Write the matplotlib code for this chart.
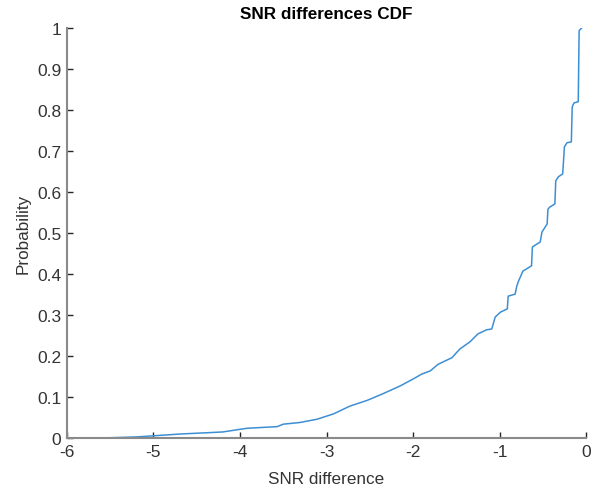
import matplotlib
matplotlib.use("Agg")
import matplotlib.pyplot as plt

# empirical CDF of the SNR differences (sorted difference, cumulative probability)
snr_diff = [-5.64, -5.19, -4.69, -4.20, -3.92, -3.57, -3.50, -3.31, -3.11, -2.92,
            -2.73, -2.53, -2.35, -2.15, -2.00, -1.90, -1.80, -1.71, -1.55, -1.46,
            -1.34, -1.25, -1.15, -1.09, -1.05, -0.99, -0.91, -0.90, -0.82, -0.80,
            -0.78, -0.73, -0.63, -0.62, -0.53, -0.51, -0.45, -0.44, -0.42, -0.36,
            -0.35, -0.32, -0.27, -0.25, -0.22, -0.17, -0.16, -0.14, -0.09, -0.08,
            -0.05]
cdf = [0.000, 0.003, 0.010, 0.015, 0.024, 0.028, 0.034, 0.038, 0.046, 0.059,
       0.078, 0.092, 0.108, 0.127, 0.144, 0.156, 0.164, 0.180, 0.196, 0.217,
       0.235, 0.254, 0.264, 0.266, 0.295, 0.307, 0.315, 0.346, 0.351, 0.371,
       0.383, 0.407, 0.420, 0.466, 0.478, 0.502, 0.522, 0.558, 0.563, 0.571,
       0.627, 0.637, 0.644, 0.710, 0.720, 0.722, 0.807, 0.817, 0.820, 0.993,
       1.000]

xticks = [-6, -5, -4, -3, -2, -1, 0]
yticks = [0, 0.1, 0.2, 0.3, 0.4, 0.5, 0.6, 0.7, 0.8, 0.9, 1]
ytick_labels = ["0", "0.1", "0.2", "0.3", "0.4", "0.5", "0.6", "0.7", "0.8", "0.9", "1"]

plt.rcParams["font.family"] = ["Liberation Sans", "DejaVu Sans"]

fig = plt.figure(figsize=(5.98, 4.89), dpi=100)
ax = fig.add_axes([0.112, 0.102, 0.868, 0.839])

ax.plot(snr_diff, cdf, color="#3d8fd4", linewidth=1.1)

ax.set_xlim(-6, 0)
ax.set_ylim(0, 1)
ax.set_xticks(xticks)
ax.set_xticklabels([str(t) for t in xticks])
ax.set_yticks(yticks)
ax.set_yticklabels(ytick_labels)

for side in ["top", "right"]:
    ax.spines[side].set_visible(False)
for side in ["left", "bottom"]:
    ax.spines[side].set_color("#8a8a8a")
    ax.spines[side].set_linewidth(1.5)

ax.tick_params(direction="in", length=4, width=1, color="#262626",
               labelsize=12.5, labelcolor="#333333", pad=4)

ax.set_title("SNR differences CDF", fontsize=12.3, fontweight="bold", pad=7)
ax.set_xlabel("SNR difference", fontsize=12.3, color="#333333", labelpad=9)
ax.set_ylabel("Probability", fontsize=12.3, color="#333333", labelpad=5)

fig.savefig("out.png", dpi=100)
